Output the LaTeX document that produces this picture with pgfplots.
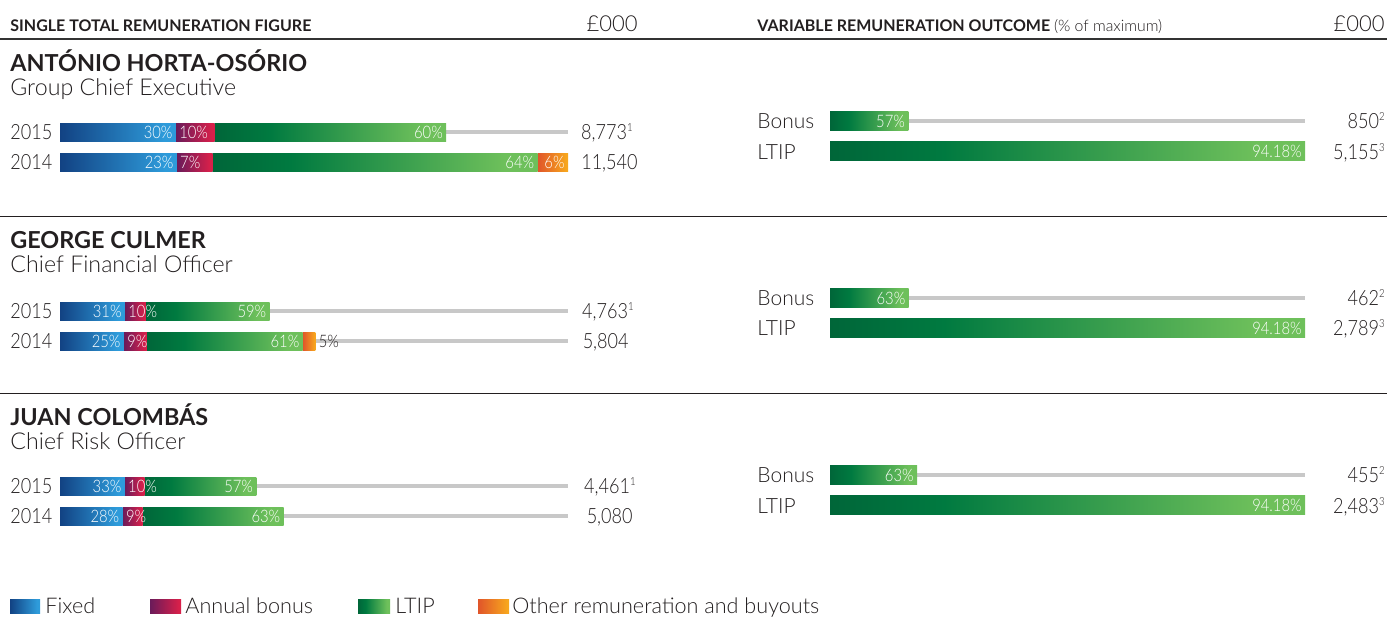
\documentclass[border=0pt]{standalone}
\usepackage{fontspec}
\IfFontExistsTF{Lato Light}{\setmainfont{Lato Light}[BoldFont={Lato Bold}]\newfontfamily\nf{Lato Light}[FakeStretch=0.86]}{\setmainfont{Lato}\newfontfamily\nf{Lato}[FakeStretch=0.86]}
\usepackage{pgfplots}
\pgfplotsset{compat=1.18}
\definecolor{fixA}{HTML}{124283}
\definecolor{fixB}{HTML}{2E9BDA}
\definecolor{bonA}{HTML}{6A1B5A}
\definecolor{bonB}{HTML}{D8204A}
\definecolor{ltA}{HTML}{006639}
\definecolor{ltM}{HTML}{007A40}
\definecolor{ltB}{HTML}{6EC05B}
\definecolor{othA}{HTML}{E0552A}
\definecolor{othB}{HTML}{F7A61E}
\definecolor{track}{HTML}{C8C8C8}
\definecolor{txt}{HTML}{231F20}
\pgfdeclarehorizontalshading{fixsh}{100bp}{color(0bp)=(fixA); color(25bp)=(fixA); color(70bp)=(fixB); color(100bp)=(fixB)}
\pgfdeclarehorizontalshading{bonsh}{100bp}{color(0bp)=(bonA); color(25bp)=(bonA); color(72bp)=(bonB); color(100bp)=(bonB)}
\pgfdeclarehorizontalshading{ltsh}{100bp}{color(0bp)=(ltA); color(25bp)=(ltA); color(37bp)=(ltM); color(70bp)=(ltB); color(100bp)=(ltB)}
\pgfdeclarehorizontalshading{othsh}{100bp}{color(0bp)=(othA); color(25bp)=(othA); color(72bp)=(othB); color(100bp)=(othB)}
\pgfplotsset{
  hid/.style={scale only axis, axis lines=none, enlargelimits=false, clip=false,
    xmin=0, ymin=-0.5, ymax=1.5, height=30pt, anchor=north west},
  lft/.style={hid, width=254pt, xmax=11540},
  row/.style={lft, xbar stacked, bar width=9pt},
  rgt/.style={hid, width=237.5pt},
  trk/.style={color=track, line width=1.6pt},
  seg/.style={draw=none, shade, shading=#1},
  rbar/.style={draw=none, shade, shading=ltsh, xbar, bar shift=0pt, bar width=9.5pt},
}
\newcommand\sups[1]{\raisebox{3.9pt}{\fontsize{5.6}{5.6}\selectfont#1}}
\tikzset{
  lab/.style={text=white, font=\nf\fontsize{8.6}{9}\selectfont, inner sep=1.5pt},
  yr/.style={anchor=base west, inner sep=0, font=\nf\fontsize{10.5}{12}\selectfont, text=txt},
  rl/.style={anchor=base west, inner sep=0, font=\fontsize{10.5}{12}\selectfont, text=txt},
  tot/.style={anchor=base east, inner sep=0, font=\nf\fontsize{10.5}{12}\selectfont, text=txt},
  nm/.style={anchor=base west, inner sep=0, font=\fontsize{11.7}{13}\selectfont\bfseries, text=txt},
  ttl/.style={anchor=base west, inner sep=0, font=\fontsize{11.6}{13}\selectfont, text=txt},
  hd/.style={anchor=base west, inner sep=0, font=\fontsize{8}{9}\selectfont\bfseries, text=txt},
  pd/.style={anchor=base east, inner sep=0, font=\fontsize{11}{12}\selectfont, text=txt},
  lg/.style={anchor=base west, inner sep=0, font=\fontsize{10.8}{12}\selectfont, text=txt},
}
\begin{document}
\begin{tikzpicture}
\begin{scope}[x=0.5pt,y=-0.5pt]
\path[use as bounding box] (0,0) rectangle (1387,617);
% headers
\node[hd] at (10,31) {SINGLE TOTAL REMUNERATION FIGURE};
\node[pd] at (638,31) {£000};
\node[hd] at (757,31) {VARIABLE REMUNERATION OUTCOME {\mdseries\fontsize{7.9}{9}\selectfont(\% of maximum)}};
\node[pd] at (1385,31) {£000};
\draw[line width=1pt, color=black!80] (0,39) -- (1387,39);
\draw[line width=0.5pt, color=txt] (0,216) -- (1387,216);
\draw[line width=0.5pt, color=txt] (0,393) -- (1387,393);
% person 1 texts
\node[nm] at (10,71) {ANTÓNIO HORTA-OSÓRIO};
\node[ttl] at (10,95) {Group Chief Executive};
\node[yr] at (10,139.5) {2015};
\node[yr] at (10,169.5) {2014};
\node[tot] at (633,139.5) {8,773\sups{1}};
\node[tot] at (638,169.5) {11,540};
\node[rl] at (757,128) {Bonus};
\node[rl] at (757,159) {LTIP};
\node[tot] at (1385,128) {850\sups{2}};
\node[tot] at (1385,159) {5,155\sups{3}};
% person 2 texts
\node[nm] at (10,248) {GEORGE CULMER};
\node[ttl] at (10,272) {Chief Financial Officer};
\node[yr] at (10,318.5) {2015};
\node[yr] at (10,348.5) {2014};
\node[tot] at (634,318.5) {4,763\sups{1}};
\node[tot] at (629,348.5) {5,804};
\node[rl] at (757,305) {Bonus};
\node[rl] at (757,335) {LTIP};
\node[tot] at (1385,305) {462\sups{2}};
\node[tot] at (1385,335) {2,789\sups{3}};
% person 3 texts
\node[nm] at (10,425) {JUAN COLOMBÁS};
\node[ttl] at (10,449) {Chief Risk Officer};
\node[yr] at (10,493.5) {2015};
\node[yr] at (10,523.5) {2014};
\node[tot] at (636,493.5) {4,461\sups{1}};
\node[tot] at (633,523.5) {5,080};
\node[rl] at (757,482) {Bonus};
\node[rl] at (757,513) {LTIP};
\node[tot] at (1385,482) {455\sups{2}};
\node[tot] at (1385,513) {2,483\sups{3}};
% legend
\shade[shading=fixsh] (10,599) rectangle (40,613);
\node[lg] at (45,613) {Fixed};
\shade[shading=bonsh] (150,599) rectangle (181,613);
\node[lg] at (185,613) {Annual bonus};
\shade[shading=ltsh] (358,599) rectangle (390,613);
\node[lg] at (395,613) {LTIP};
\shade[shading=othsh] (478,599) rectangle (509,613);
\node[lg] at (512,613) {Other remuneration and buyouts};
\end{scope}

% ===== Person 1 =====
\begin{axis}[lft, at={(30pt,-58.5pt)}]
\addplot[trk] coordinates {(0,1) (11540,1)};
\addplot[trk] coordinates {(0,0) (11540,0)};
\end{axis}
\begin{axis}[row, at={(30pt,-58.5pt)}]
\addplot[seg=fixsh] coordinates {(2631.9,1)};
\addplot[seg=bonsh] coordinates {(877.3,1)};
\addplot[seg=ltsh] coordinates {(5263.8,1)};
\end{axis}
\begin{axis}[row, at={(30pt,-58.5pt)}]
\addplot[seg=fixsh] coordinates {(2654.2,0)};
\addplot[seg=bonsh] coordinates {(807.8,0)};
\addplot[seg=ltsh] coordinates {(7385.6,0)};
\addplot[seg=othsh] coordinates {(692.4,0)};
\end{axis}
\begin{axis}[lft, at={(30pt,-58.5pt)}]
\node[lab,anchor=east] at (axis cs:2631.9,1) {30\%};
\node[lab,anchor=west] at (axis cs:2631.9,1) {10\%};
\node[lab,anchor=east] at (axis cs:8773,1) {60\%};
\node[lab,anchor=east] at (axis cs:2654.2,0) {23\%};
\node[lab,anchor=west] at (axis cs:2654.2,0) {7\%};
\node[lab,anchor=east] at (axis cs:10847.6,0) {64\%};
\node[lab,anchor=east] at (axis cs:11540,0) {6\%};
\end{axis}
\begin{axis}[rgt, at={(415pt,-53pt)}, xmax=5155]
\addplot[trk] coordinates {(0,1) (5155,1)};
\addplot[rbar] coordinates {(850,1)};
\addplot[rbar] coordinates {(5155,0)};
\node[lab,anchor=east] at (axis cs:850,1) {57\%};
\node[lab,anchor=east] at (axis cs:5155,0) {94.18\%};
\end{axis}

% ===== Person 2 =====
\begin{axis}[lft, at={(30pt,-148pt)}]
\addplot[trk] coordinates {(0,1) (11540,1)};
\addplot[trk] coordinates {(0,0) (11540,0)};
\end{axis}
\begin{axis}[row, at={(30pt,-148pt)}]
\addplot[seg=fixsh] coordinates {(1476.5,1)};
\addplot[seg=bonsh] coordinates {(476.3,1)};
\addplot[seg=ltsh] coordinates {(2810.2,1)};
\end{axis}
\begin{axis}[row, at={(30pt,-148pt)}]
\addplot[seg=fixsh] coordinates {(1451,0)};
\addplot[seg=bonsh] coordinates {(522.4,0)};
\addplot[seg=ltsh] coordinates {(3540.4,0)};
\addplot[seg=othsh] coordinates {(290.2,0)};
\end{axis}
\begin{axis}[lft, at={(30pt,-148pt)}]
\node[lab,anchor=east] at (axis cs:1476.5,1) {31\%};
\node[lab,anchor=west] at (axis cs:1476.5,1) {10\%};
\node[lab,anchor=east] at (axis cs:4763,1) {59\%};
\node[lab,anchor=east] at (axis cs:1451,0) {25\%};
\node[lab,anchor=west] at (axis cs:1451,0) {9\%};
\node[lab,anchor=east] at (axis cs:5513.8,0) {61\%};
\node[lab,anchor=west,text=txt] at (axis cs:5804,0) {5\%};
\end{axis}
\begin{axis}[rgt, at={(415pt,-141.5pt)}, xmax=2789]
\addplot[trk] coordinates {(0,1) (2789,1)};
\addplot[rbar] coordinates {(462,1)};
\addplot[rbar] coordinates {(2789,0)};
\node[lab,anchor=east] at (axis cs:462,1) {63\%};
\node[lab,anchor=east] at (axis cs:2789,0) {94.18\%};
\end{axis}

% ===== Person 3 =====
\begin{axis}[lft, at={(30pt,-235.5pt)}]
\addplot[trk] coordinates {(0,1) (11540,1)};
\addplot[trk] coordinates {(0,0) (11540,0)};
\end{axis}
\begin{axis}[row, at={(30pt,-235.5pt)}]
\addplot[seg=fixsh] coordinates {(1472.1,1)};
\addplot[seg=bonsh] coordinates {(446.1,1)};
\addplot[seg=ltsh] coordinates {(2542.8,1)};
\end{axis}
\begin{axis}[row, at={(30pt,-235.5pt)}]
\addplot[seg=fixsh] coordinates {(1422.4,0)};
\addplot[seg=bonsh] coordinates {(457.2,0)};
\addplot[seg=ltsh] coordinates {(3200.4,0)};
\end{axis}
\begin{axis}[lft, at={(30pt,-235.5pt)}]
\node[lab,anchor=east] at (axis cs:1472.1,1) {33\%};
\node[lab,anchor=west] at (axis cs:1472.1,1) {10\%};
\node[lab,anchor=east] at (axis cs:4461,1) {57\%};
\node[lab,anchor=east] at (axis cs:1422.4,0) {28\%};
\node[lab,anchor=west] at (axis cs:1422.4,0) {9\%};
\node[lab,anchor=east] at (axis cs:5080,0) {63\%};
\end{axis}
\begin{axis}[rgt, at={(415pt,-230pt)}, xmax=2483]
\addplot[trk] coordinates {(0,1) (2483,1)};
\addplot[rbar] coordinates {(455,1)};
\addplot[rbar] coordinates {(2483,0)};
\node[lab,anchor=east] at (axis cs:455,1) {63\%};
\node[lab,anchor=east] at (axis cs:2483,0) {94.18\%};
\end{axis}
\end{tikzpicture}
\end{document}
